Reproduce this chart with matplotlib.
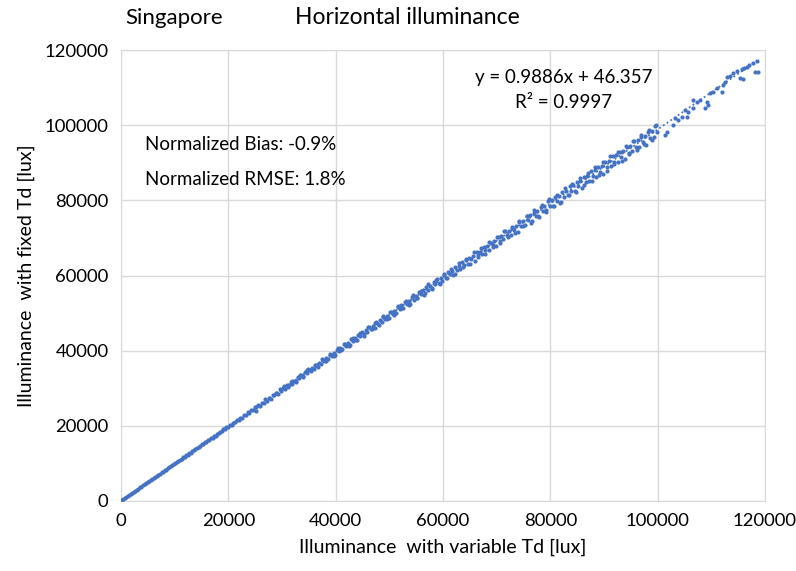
import matplotlib.pyplot as plt

# Singapore, horizontal illuminance: fixed Td vs variable Td
x_var = [
    150, 420, 700, 950, 1230, 1500, 1820, 2100, 2380, 2650, 2970, 3250, 3540, 3800,
    4120, 4400, 4690, 4950, 5270, 5560, 5830, 6120, 6400, 6710, 6980, 7260, 7550,
    7840, 8130, 8400, 8700, 8990, 9280, 9560, 9850, 10140, 10430, 10700, 11000,
    11290, 11570, 11860, 12150, 12440, 12730, 13010, 13300, 13600, 13880, 14170,
    14460, 14750, 15040, 15320, 15610, 15900, 16190, 16480, 16770, 17060, 17340,
    17630, 17920, 18210, 18500, 18790, 19080, 19370, 19660, 19950,
    20250, 20600, 20900, 21250, 21600, 21900, 22250, 22600, 22900, 23250, 23600,
    23900, 24250, 24600, 24900, 25100, 25250, 25600, 25900, 26250, 26600, 26900,
    27250, 27600, 27900, 28250, 28600, 28900, 29250, 29600, 29900, 30250, 30600,
    30900, 31250, 31600, 31900, 32250, 32600, 32900, 33250, 33600, 33900, 34250,
    34600, 34900, 35250, 35600, 35900, 36250, 36600, 36900, 37250, 37600, 37900,
    38250, 38600, 38900, 39250, 39600, 39900, 40250, 40600, 40900, 41250, 41600,
    41900, 42250, 42600, 42900, 43250, 43600, 43900, 44250, 44600, 44900, 45250,
    45600, 45900, 46250, 46600, 46900, 47250, 47600, 47900, 48250, 48600, 48900,
    49250, 49600, 49900, 50250, 50600, 50900, 51250, 51600, 51900, 52250, 52600,
    52900, 53250, 53600, 53900, 54250, 54600, 54900, 55250, 55600, 55900, 56250,
    56600, 56900, 57250, 57600, 57900, 58250, 58600, 58900, 59250, 59600, 59900,
    60250, 60600, 60900, 61250, 61600, 61900, 62250, 62600, 62900, 63250, 63600,
    63900, 64250, 64600, 64900, 65250, 65600, 65900, 66250, 66600, 66900, 67250,
    67600, 67900, 68250, 68600, 68900, 69250, 69600, 69900, 70250, 70600, 70900,
    71250, 71600, 71900, 72250, 72600, 72900, 73250, 73600, 73900, 74250, 74600,
    74900, 75250, 75600, 75900, 76250, 76600, 76900, 77250, 77600, 77900, 78250,
    78600, 78900, 79250, 79600, 79900, 80250, 80600, 80900, 81250, 81600, 81900,
    82250, 82600, 82900, 83250, 83600, 83900, 84250, 84600, 84900, 85250, 85600,
    85900, 86250, 86600, 86900, 87250, 87600, 87900, 88250, 88600, 88900, 89250,
    89600, 89900, 90250, 90600, 90900, 91250, 91600, 91900, 92250, 92600, 92900,
    93250, 93600, 93900, 94250, 94600, 94900, 95250, 95600, 95900, 96250, 96600,
    96900, 97250, 97600, 97900, 98250, 98600, 98900, 99250, 99600, 99900,
    101370, 101740, 102860, 103230, 103790, 104530, 105470, 105090, 105650, 106580,
    106580, 107330, 107880, 109190, 108820, 109380, 109750, 110310, 111050, 111990,
    112170, 112540, 112910, 113470, 114030, 114780, 115900, 115340, 115710, 116080,
    116640, 117010, 117760, 118130, 118690, 118500,
]
y_fixed = [
    190, 455, 745, 975, 1270, 1515, 1860, 2105, 2410, 2650, 3000, 3240, 3570, 3780,
    4140, 4370, 4710, 4915, 5290, 5510, 5850, 6060, 6410, 6640, 6990, 7180, 7560,
    7750, 8130, 8300, 8700, 8870, 9280, 9440, 9840, 10000, 10420, 10560, 10980,
    11130, 11550, 11700, 12120, 12270, 12700, 12830, 13260, 13410, 13840, 13970,
    14420, 14540, 14990, 15100, 15560, 15660, 16130, 16240, 16700, 16810, 17270,
    17380, 17840, 17940, 18420, 18510, 18990, 19080, 19570, 19660,
    20215, 20160, 20810, 20850, 21600, 21400, 22090, 22040, 22935, 22880, 23580,
    23270, 24120, 24120, 24960, 23960, 24860, 25600, 25300, 26150, 26140, 26990,
    26690, 27430, 27180, 28275, 28170, 28820, 28560, 29660, 29360, 30100, 29800,
    30900, 30740, 31690, 31235, 32030, 31830, 32920, 32670, 33470, 32960, 34210,
    33955, 35000, 34750, 35490, 35040, 36240, 35930, 36680, 36330, 37620, 37270,
    38065, 37760, 39010, 38550, 39450, 38850, 40190, 39840, 40635, 40330, 41630,
    41275, 42120, 41570, 42960, 42510, 43355, 42750, 44200, 43795, 44990, 44540,
    45435, 44830, 46225, 45725, 46620, 46065, 47610, 47110, 48105, 47550, 49000,
    48495, 49340, 48590, 50185, 49680, 50575, 50070, 51620, 51065, 52060, 51360,
    52955, 52350, 53300, 52440, 54190, 53585, 54630, 54080, 55675, 55070, 56065,
    55265, 56860, 56255, 57300, 56300, 58145, 57640, 58990, 58085, 59330, 58475,
    60010, 59355, 61050, 60300, 61245, 60140, 62185, 61485, 62480, 61775, 63620,
    62870, 64015, 63010, 64760, 64305, 65250, 63995, 66195, 65390, 66385, 65780,
    67680, 66875, 67970, 66865, 68765, 68110, 69155, 67855, 70200, 69295, 70490,
    69640, 71735, 70830, 71975, 70725, 72770, 72015, 73060, 71710, 74205, 73200,
    74500, 73545, 75740, 74735, 75985, 74630, 76775, 75920, 77070, 75565, 78210,
    77105, 78505, 77450, 79745, 78645, 79990, 78535, 80780, 79830, 81075, 79420,
    82215, 81015, 82510, 81355, 83800, 82550, 83995, 82440, 84790, 83735, 85080,
    83275, 86225, 84920, 86515, 85260, 87810, 86455, 88000, 86345, 88795, 87640,
    89085, 87135, 90230, 88825, 90520, 89170, 91815, 90360, 92005, 90255, 92800,
    91545, 93090, 90990, 94235, 92730, 94530, 93075, 95820, 94265, 96015, 94160,
    96805, 95450, 97100, 94845, 98240, 96635, 98535, 96980, 99825, 98175,
    97390, 98190, 100050, 101910, 101380, 102180, 102180, 104040, 103510, 104570,
    106700, 106170, 106700, 106170, 104570, 105370, 108570, 108830, 109900, 108830,
    110700, 111490, 112820, 113090, 113890, 114420, 112290, 112560, 114950, 115220,
    115490, 116020, 116550, 114150, 114150, 117080,
]

# wider spread of points in the upper part of the band
x_var_spread = [
    30450, 31150, 31850, 32550, 33300, 34000, 34700, 35400, 36100, 36800, 37500,
    38200, 38950, 39650, 40350, 41050, 41750, 42450, 43150, 43850, 44550, 45300,
    46000, 46700, 47400, 48100, 48800, 49500, 50200, 50950, 51650, 52350, 53050,
    53750, 54450, 55150, 55850, 56550, 57300, 58000, 58700, 59400, 60100, 60800,
    61500, 62200, 62950, 63650, 64350, 65050, 65750, 66450, 67150, 67850, 68550,
    69300, 70000, 70700, 71400, 72100, 72800, 73500, 74200, 74950, 75650, 76350,
    77050, 77750, 78450, 79150, 79850, 80550, 81300, 82000, 82700, 83400, 84100,
    84850, 85550, 86300, 87000, 87700, 88400, 89100, 89800, 90500, 91200, 91950,
    92650, 93350, 94050, 94750, 95450, 96150, 96850, 97550, 98300, 99000, 99700,
]
y_fixed_spread = [
    30600, 30386, 31833, 31675, 33466, 33258, 34900, 34442, 36134, 35726, 37718,
    37311, 38901, 38494, 40586, 40078, 41720, 41212, 43404, 42946, 44638, 43980,
    46272, 45714, 47356, 46698, 49090, 48382, 50174, 49465, 51957, 51249, 53091,
    52183, 54775, 53917, 55909, 54851, 57643, 56685, 58777, 57619, 60461, 59403,
    61645, 60337, 63328, 62171, 64513, 63105, 66147, 64889, 67331, 65823, 68965,
    67656, 70198, 68590, 71832, 70374, 73016, 71308, 74650, 73141, 75884, 74076,
    77518, 75860, 78702, 76794, 80336, 78578, 81569, 79561, 83203, 81345, 84387,
    82329, 86071, 84162, 87304, 85096, 88938, 86880, 90122, 87814, 91756, 89648,
    92990, 90582, 94624, 92366, 95808, 93300, 97442, 95084, 98675, 96067, 100109,
]

slope = 0.9886
intercept = 46.357
trend_x = [0, 119000]

ticks = [0, 20000, 40000, 60000, 80000, 100000, 120000]
blue = "#4472C4"
grid = "#D9D9D9"
plt.rcParams["font.family"] = ["Lato", "DejaVu Sans"]

fig = plt.figure(figsize=(7.96, 5.71), dpi=100)
ax = fig.add_axes([0.152, 0.123, 0.809, 0.789])

ax.scatter(x_var + x_var_spread, y_fixed + y_fixed_spread, s=9, marker="o",
           color=blue, linewidths=0, zorder=3)
ax.plot(trend_x, [slope * v + intercept for v in trend_x],
        color=blue, linestyle=(0, (1, 1.5)), linewidth=1.3, zorder=2)

ax.set_xlim(0, 120000)
ax.set_ylim(0, 120000)
ax.set_xticks(ticks)
ax.set_yticks(ticks)
ax.grid(True, color=grid, linewidth=1)
ax.set_axisbelow(True)
for s in ax.spines.values():
    s.set_color(grid)
ax.tick_params(length=0, labelsize=13.3, colors="black")
ax.tick_params(axis="x", pad=9)
ax.tick_params(axis="y", pad=9)

ax.set_xlabel("Illuminance  with variable Td [lux]", fontsize=14, labelpad=7)
ax.set_ylabel("Illuminance  with fixed Td [lux]", fontsize=14, labelpad=7)

fig.text(125 / 796, 1 - 18 / 571, "Singapore", fontsize=16, va="center")
fig.text(295 / 796, 1 - 18 / 571, "Horizontal illuminance", fontsize=16.5, va="center")

ax.text(0.688, 0.94, "y = 0.9886x + 46.357", transform=ax.transAxes,
        fontsize=13.5, ha="center", va="center")
ax.text(0.688, 0.885, "R\u00b2 = 0.9997", transform=ax.transAxes,
        fontsize=13.5, ha="center", va="center")
ax.text(0.037, 0.79, "Normalized Bias: -0.9%", transform=ax.transAxes, fontsize=13.5, va="center")
ax.text(0.037, 0.712, "Normalized RMSE: 1.8%", transform=ax.transAxes, fontsize=13.5, va="center")

fig.savefig("out.png", dpi=100)
